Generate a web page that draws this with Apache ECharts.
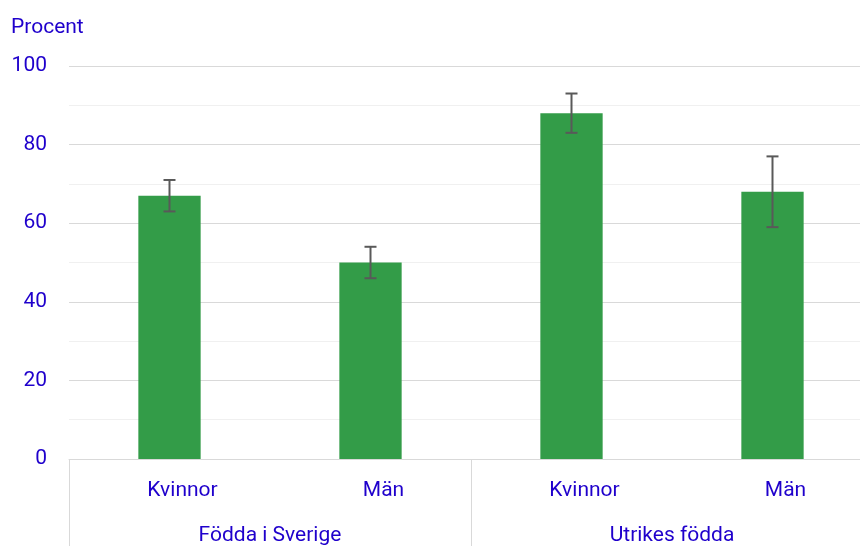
<!DOCTYPE html>
<html><head><meta charset="utf-8">
<script src="https://cdn.jsdelivr.net/npm/echarts@6/dist/echarts.min.js"></script>
<style>html,body{margin:0;padding:0;background:#fff;overflow:hidden;width:860px;height:546px}#c{width:880px;height:546px}</style>
</head><body><div id="c"></div>
<script>
const categories = ['Kvinnor', 'Män', 'Kvinnor', 'Män'];
const groups = ['Födda i Sverige', 'Utrikes födda'];
const values = [67, 50, 88, 68];
const errLow = [63, 46, 83, 59];
const errHigh = [71, 54, 93, 77];
const yTicks = [0, 20, 40, 60, 80, 100];

const blue = '#1f00cc';
const fs = 21;
const chart = echarts.init(document.getElementById('c'));
chart.setOption({
  animation: false,
  textStyle: { fontFamily: 'Roboto' },
  title: { text: 'Procent', left: 6, top: 12, textStyle: { color: blue, fontSize: fs, fontWeight: 'normal', fontFamily: 'Roboto' } },
  grid: { left: 69, right: 7, top: 66, bottom: 84, containLabel: false },
  xAxis: [{
    type: 'category', data: categories.map((c, i) => i), position: 'bottom',
    axisLine: { show: true, lineStyle: { color: '#d9d9d9', width: 1 } },
    axisTick: { show: false },
    axisLabel: { formatter: v => categories[v], color: blue, fontSize: fs, margin: 21, interval: 0, padding: [0, 0, 0, 26] }
  }, {
    type: 'category', data: groups, position: 'bottom', gridIndex: 0,
    axisLine: { show: false },
    axisTick: { show: true, length: 90, lineStyle: { color: '#d9d9d9', width: 1 } },
    axisLabel: { color: blue, fontSize: fs, margin: 66, interval: 0 }
  }],
  yAxis: {
    type: 'value', min: yTicks[0], max: yTicks[yTicks.length - 1], interval: 20,
    axisLine: { show: false }, axisTick: { show: false },
    axisLabel: { color: blue, fontSize: fs, margin: 22 },
    splitLine: { lineStyle: { color: '#d9d9d9', width: 1 } },
    minorTick: { show: false, splitNumber: 2 },
    minorSplitLine: { show: true, lineStyle: { color: '#f0f0f0', width: 1 } }
  },
  series: [{
    type: 'bar', data: values, barWidth: '31%', xAxisIndex: 0,
    itemStyle: { color: '#339c48' }
  }, {
    type: 'custom', xAxisIndex: 0,
    data: values.map((v, i) => [i, errLow[i], errHigh[i]]),
    renderItem: function (params, api) {
      const x = api.value(0);
      const lo = api.coord([x, api.value(1)]);
      const hi = api.coord([x, api.value(2)]);
      const hw = 6;
      const st = { stroke: '#595959', lineWidth: 2 };
      return { type: 'group', children: [
        { type: 'line', shape: { x1: lo[0], y1: lo[1], x2: hi[0], y2: hi[1] }, style: st },
        { type: 'line', shape: { x1: lo[0] - hw, y1: lo[1], x2: lo[0] + hw, y2: lo[1] }, style: st },
        { type: 'line', shape: { x1: hi[0] - hw, y1: hi[1], x2: hi[0] + hw, y2: hi[1] }, style: st }
      ]};
    },
    z: 5
  }]
});
</script></body></html>
